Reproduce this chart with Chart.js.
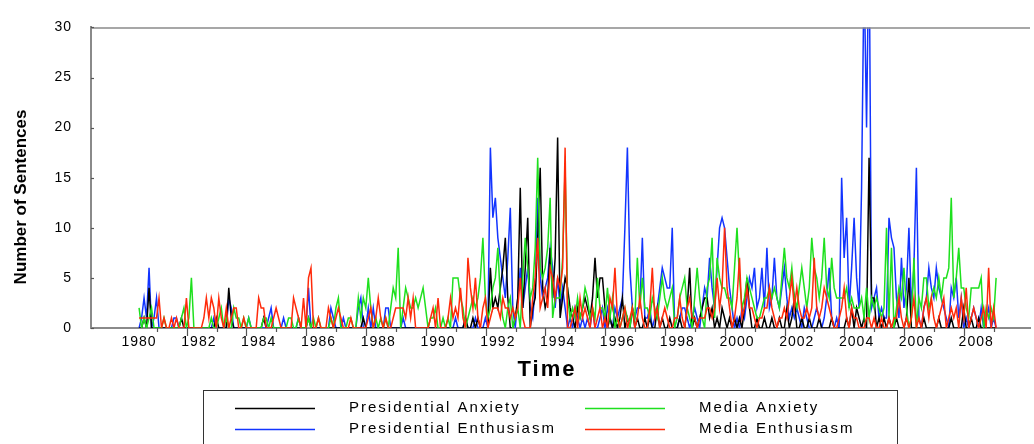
<!DOCTYPE html>
<html>
<head>
<meta charset="utf-8">
<script src="https://cdn.jsdelivr.net/npm/chart.js@4.4.1/dist/chart.umd.min.js"></script>
<style>
  html, body { margin: 0; padding: 0; background: #ffffff; overflow: hidden; }
  #wrap { position: relative; width: 1034px; height: 444px; }
</style>
</head>
<body>
<div id="wrap"><canvas id="c" width="1034" height="444"></canvas></div>
<script>
// Monthly sentence counts, January 1980 to September 2008 (one row per year).
const startYear = 1980;
const yearLabels = ['1980','1982','1984','1986','1988','1990','1992','1994','1996','1998','2000','2002','2004','2006','2008'];
const yTicks = [0, 5, 10, 15, 20, 25, 30];
const seriesNames = ['Presidential Anxiety', 'Media Anxiety', 'Presidential Enthusiasm', 'Media Enthusiasm'];

const presAnxiety = [
  0,0,1,0,4,0,0,0,0,0,0,0,   // 1980
  0,0,0,0,0,1,0,0,0,0,0,0,
  0,0,0,0,0,0,0,1,0,0,0,0,
  4,1,0,0,0,0,0,0,0,0,0,0,
  0,0,1,0,0,0,0,0,0,0,0,0,
  0,0,0,0,0,0,0,0,1,0,0,0,   // 1985
  0,0,0,0,0,0,0,0,0,0,0,0,
  0,0,0,0,0,0,1,0,0,0,0,0,
  0,0,0,0,0,0,0,0,0,0,0,0,
  0,0,0,0,0,0,0,0,0,0,0,0,
  0,0,0,0,0,0,0,0,0,0,0,1,   // 1990
  0,0,1,0,1,0,0,0,0,6,2,3,
  2,4,6,9,3,0,0,1,3,14,2,6,
  11,0,2,3,9,16,4,2,3,8,3,7,
  19,1,3,5,4,2,1,0,2,1,2,3,
  2,1,3,7,3,5,5,2,0,1,0,1,   // 1995
  0,1,3,0,1,0,2,0,1,0,0,1,
  0,1,0,0,2,0,1,0,0,1,0,0,
  0,1,0,0,2,6,0,1,0,1,2,3,
  3,1,2,0,1,0,2,1,0,1,0,1,
  0,1,0,2,5,2,0,0,1,0,0,1,   // 2000
  0,0,1,0,0,1,0,0,2,0,1,3,
  0,0,1,0,0,1,0,0,0,1,0,0,
  0,0,1,0,0,0,0,0,1,0,2,0,
  2,1,0,1,0,17,3,3,0,1,0,1,
  0,1,0,0,1,0,0,0,1,5,0,0,   // 2005
  0,0,0,1,0,0,0,0,0,1,0,0,
  0,0,1,0,0,0,0,2,0,0,1,0,
  0,1,0,0,0,0,0,0,0          // 2008
];

const presEnthusiasm = [
  0,1,3,1,6,0,1,3,0,0,0,0,   // 1980
  0,0,1,1,0,0,0,0,0,0,0,0,
  0,0,0,0,0,0,1,0,0,0,0,0,
  3,2,0,0,0,0,0,0,1,0,0,0,
  0,0,0,0,1,2,0,0,0,0,1,0,
  0,0,0,0,1,0,0,0,4,0,0,0,   // 1985
  0,0,0,0,0,2,1,0,0,0,1,0,
  0,0,0,0,2,3,0,0,2,0,2,0,
  0,0,0,2,2,0,0,0,0,0,1,0,
  0,0,0,0,0,0,0,0,0,0,0,0,
  0,0,0,0,0,0,0,1,0,0,0,1,   // 1990
  0,0,0,1,0,0,0,1,0,18,11,13,
  9,7,5,3,7,12,2,0,3,6,2,4,
  6,2,1,4,13,5,3,4,5,8,6,2,
  5,2,4,2,0,1,0,2,1,0,1,0,
  1,0,2,0,0,1,2,0,2,1,0,2,   // 1995
  1,2,3,10,18,6,2,1,2,2,9,1,
  1,2,0,1,2,4,6,5,4,4,10,0,
  0,1,2,2,1,0,1,2,1,0,2,4,
  3,7,4,2,6,10,11,10,7,4,2,0,
  1,0,2,1,3,5,4,6,2,3,6,2,   // 2000
  8,2,3,7,3,2,4,6,3,1,2,1,
  2,1,0,2,1,0,0,1,2,1,0,1,
  3,6,1,0,1,0,15,7,11,2,6,11,
  5,2,14,36,20,40,2,3,4,1,2,1,
  1,11,9,8,3,1,7,2,4,10,2,6, // 2005
  16,1,0,2,3,6,4,3,6,4,3,2,
  1,0,4,3,5,1,3,0,1,0,1,2,
  1,0,2,0,1,2,0,1,0          // 2008
];

const mediaAnxiety = [
  2,0,1,0,1,2,0,0,0,0,1,0,   // 1980
  0,0,0,0,0,1,2,0,1,5,0,0,
  0,0,0,0,0,1,0,0,1,2,0,1,
  0,0,2,1,1,0,1,0,1,0,0,0,
  0,0,1,1,0,1,0,0,0,0,0,0,
  1,1,0,0,1,0,0,0,1,0,1,0,   // 1985
  1,0,0,0,0,1,0,2,3,0,0,0,
  1,1,0,0,3,1,3,2,5,2,0,1,
  0,1,0,1,0,2,4,3,8,0,2,4,
  3,2,2,3,2,3,4,2,0,1,1,2,
  0,0,1,0,1,0,5,5,5,3,2,0,   // 1990
  1,2,3,2,3,5,9,3,1,2,4,5,
  8,3,1,0,2,3,0,1,2,0,5,9,
  6,3,4,8,17,6,5,6,8,13,1,3,
  3,3,7,16,3,1,2,1,3,1,2,4,
  3,1,2,1,5,2,2,1,4,1,3,0,   // 1995
  1,0,1,2,1,0,2,1,7,2,5,2,
  2,1,3,2,1,3,5,3,2,3,4,0,
  1,3,4,5,2,1,0,3,6,3,1,0,
  4,5,9,1,7,5,4,4,3,3,2,6,
  10,5,2,3,5,4,3,2,1,1,2,3,  // 2000
  3,4,3,4,3,2,5,8,5,4,6,3,
  2,4,6,4,2,4,9,6,5,3,5,9,
  4,3,7,4,3,3,3,3,4,2,3,2,
  2,2,3,1,4,1,3,2,3,2,1,2,
  10,1,8,0,2,4,3,6,2,0,1,7,  // 2005
  0,3,2,5,5,2,3,4,3,5,3,5,
  5,6,13,3,5,8,4,4,2,1,4,4,
  4,4,5,0,2,1,2,1,5          // 2008
];

const mediaEnthusiasm = [
  1,1,1,1,1,1,1,1,3,0,1,0,   // 1980
  0,1,0,1,0,0,0,3,0,0,0,0,
  0,0,1,3,1,3,2,0,3,1,0,2,
  0,1,2,2,0,0,1,0,0,0,0,0,
  3,2,2,0,0,0,1,2,1,0,0,0,
  0,0,3,2,1,0,3,0,5,6,0,0,   // 1985
  1,0,0,0,2,1,0,1,2,1,0,0,
  0,1,0,0,0,0,0,0,1,2,0,1,
  3,1,0,1,0,0,1,2,2,2,2,1,
  3,1,3,0,0,0,0,0,0,1,2,0,
  3,0,0,0,1,3,1,2,1,4,1,0,   // 1990
  7,4,2,5,1,0,2,3,0,1,2,2,
  2,1,3,2,2,1,2,1,2,5,1,0,
  0,0,3,5,9,2,3,4,2,6,5,3,
  5,4,6,18,0,0,1,2,0,3,1,2,
  1,0,2,0,1,2,0,1,0,3,2,6,   // 1995
  1,0,1,2,0,1,2,0,1,3,1,0,
  0,2,6,1,2,0,1,2,1,0,0,1,
  1,3,1,0,2,3,1,1,0,1,1,1,
  2,2,1,2,5,2,4,10,4,2,0,1,
  3,7,1,2,4,2,2,1,0,1,1,2,   // 2000
  2,4,2,1,0,1,1,2,1,3,5,2,
  4,2,1,1,2,1,2,7,2,1,2,4,
  3,2,1,0,0,1,2,4,1,0,2,1,
  1,0,0,0,1,1,0,1,0,0,1,0,
  0,1,0,1,1,3,1,0,1,0,1,3,   // 2005
  0,1,0,2,3,1,3,1,0,1,2,3,
  0,1,2,1,2,0,3,1,4,0,1,2,
  1,0,1,2,0,6,0,2,0          // 2008
];

const colors = {
  'Presidential Anxiety': '#000000',
  'Presidential Enthusiasm': '#1234ff',
  'Media Anxiety': '#1ee01e',
  'Media Enthusiasm': '#ff2a0a'
};

const FONT = "'Liberation Sans', Arial, Helvetica, sans-serif";
const monthOf = y => (Number(y) - startYear) * 12;

function toPoints(arr) { return arr.map((v, i) => ({ x: i, y: v })); }

function makeSet(name, values, order) {
  return {
    label: name,
    data: toPoints(values),
    borderColor: colors[name],
    backgroundColor: colors[name],
    borderWidth: 1.5,
    pointRadius: 0,
    tension: 0,
    order: order
  };
}

// frame line on top, year tick marks, value tick marks, axis titles and the boxed legend
const decorations = {
  id: 'decorations',
  beforeDraw(chart) { chart.ctx.letterSpacing = '1px'; },
  afterDraw(chart) {
    const { ctx, chartArea: a, scales } = chart;
    ctx.save();
    ctx.letterSpacing = '0px';
    ctx.strokeStyle = '#8a8a8a';
    ctx.lineWidth = 1.5;
    ctx.beginPath();
    ctx.moveTo(a.left, a.top + 0.5);
    ctx.lineTo(a.right, a.top + 0.5);
    ctx.stroke();

    // yearly ticks below the time axis, alternating short and long
    ctx.strokeStyle = '#555555';
    ctx.lineWidth = 1.2;
    for (let k = 0; k <= 28; k++) {
      const px = Math.round(scales.x.getPixelForValue(7.1 + 12 * k)) + 0.5;
      const len = (k % 2 === 1) ? 8 : 4;
      ctx.beginPath();
      ctx.moveTo(px, a.bottom);
      ctx.lineTo(px, a.bottom + len);
      ctx.stroke();
    }
    // short inward ticks on the value axis
    yTicks.forEach(v => {
      const py = Math.round(scales.y.getPixelForValue(v)) + 0.5;
      ctx.beginPath();
      ctx.moveTo(a.left, py);
      ctx.lineTo(a.left + 3, py);
      ctx.stroke();
    });

    // axis titles
    ctx.fillStyle = '#000000';
    ctx.textAlign = 'center';
    ctx.textBaseline = 'middle';
    ctx.letterSpacing = '0px';
    ctx.save();
    ctx.translate(21, 197);
    ctx.rotate(-Math.PI / 2);
    ctx.font = 'bold 17px ' + FONT;
    ctx.fillText('Number of Sentences', 0, 0);
    ctx.restore();

    ctx.letterSpacing = '2px';
    ctx.font = 'bold 22px ' + FONT;
    ctx.fillText('Time', 547, 370);

    // legend box
    ctx.letterSpacing = '0px';
    ctx.strokeStyle = '#333333';
    ctx.lineWidth = 1;
    ctx.strokeRect(203.5, 390.5, 694, 80);
    const cols = [235, 585];
    const rows = [408, 429];
    seriesNames.forEach((name, idx) => {
      const cx = cols[idx % 2];
      const cy = rows[Math.floor(idx / 2)];
      ctx.strokeStyle = colors[name];
      ctx.lineWidth = 1.5;
      ctx.beginPath();
      ctx.moveTo(cx, cy + 0.5);
      ctx.lineTo(cx + 80, cy + 0.5);
      ctx.stroke();
      ctx.fillStyle = '#000000';
      ctx.textAlign = 'left';
      ctx.textBaseline = 'middle';
      ctx.letterSpacing = '2px';
      ctx.font = '15px ' + FONT;
      ctx.fillText(name, cx + 114, cy);
      ctx.letterSpacing = '0px';
    });
    ctx.restore();
  }
};

new Chart(document.getElementById('c'), {
  type: 'line',
  data: {
    datasets: [
      makeSet('Media Enthusiasm', mediaEnthusiasm, 0),
      makeSet('Media Anxiety', mediaAnxiety, 1),
      makeSet('Presidential Anxiety', presAnxiety, 2),
      makeSet('Presidential Enthusiasm', presEnthusiasm, 3)
    ]
  },
  options: {
    responsive: false,
    animation: false,
    devicePixelRatio: 1,
    layout: { padding: { left: 0, top: 21, right: 4, bottom: 0 } },
    plugins: { legend: { display: false }, tooltip: { enabled: false } },
    scales: {
      x: {
        type: 'linear',
        min: -19.3,
        max: 357.6,
        afterBuildTicks: s => { s.ticks = yearLabels.map(y => ({ value: monthOf(y) })); },
        afterFit: s => { s.height = 116; },
        ticks: {
          autoSkip: false,
          maxRotation: 0,
          padding: 6,
          color: '#000000',
          font: { family: FONT, size: 14 },
          callback: v => String(startYear + v / 12)
        },
        grid: { display: false, drawTicks: false },
        border: { display: true, color: '#8a8a8a', width: 2 }
      },
      y: {
        min: 0,
        max: 30,
        afterBuildTicks: s => { s.ticks = yTicks.map(v => ({ value: v })); },
        afterFit: s => { s.width = 91; },
        ticks: {
          padding: 19,
          color: '#000000',
          font: { family: FONT, size: 14 }
        },
        grid: { display: false, drawTicks: false },
        border: { display: true, color: '#8a8a8a', width: 2 }
      }
    }
  },
  plugins: [decorations]
});
</script>
</body>
</html>
